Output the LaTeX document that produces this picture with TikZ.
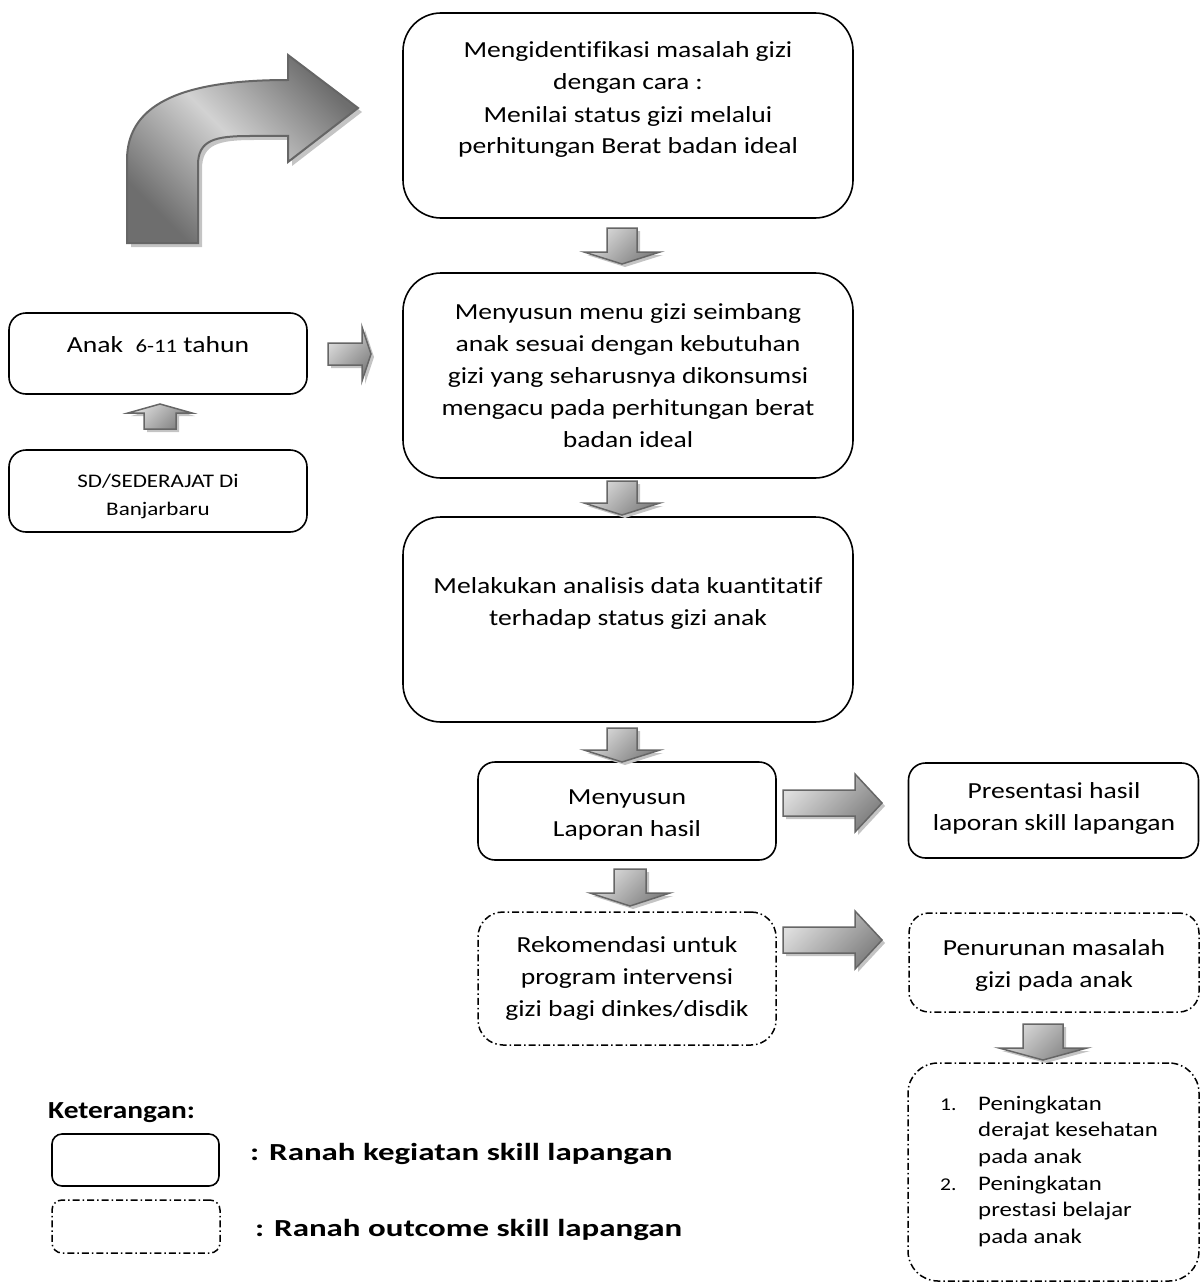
\documentclass[tikz,border=0pt]{standalone}
\usepackage{fontspec}
\setmainfont{Carlito}[FakeStretch=1.2, Ligatures={NoCommon,NoContextual}, RawFeature={-liga;-clig;-calt}]
\usetikzlibrary{calc}
\definecolor{arrline}{HTML}{666666}
\definecolor{arrlight}{HTML}{DEDEDE}
\definecolor{arrdark}{HTML}{7E7E7E}
\definecolor{curvedark}{HTML}{6E6E6E}
\definecolor{curvelight}{HTML}{D2D2D2}
\definecolor{arrshadow}{HTML}{C4C4C4}
\newcommand\fmain{\fontsize{23}{32}\selectfont}
\newcommand\fsmall{\fontsize{19.2}{28}\selectfont}
\newcommand\flist{\fontsize{20.7}{26.7}\selectfont}
\newcommand\fleg{\bfseries\fontsize{24.5}{28}\selectfont}
\newcommand\nlg{\kern0pt}
\tikzset{
  solidbox/.style={draw=black, line width=1.6pt, fill=white, inner sep=0pt, rounded corners=#1},
  solidbox/.default=17pt,
  dashbox/.style={draw=black, line width=1.5pt, fill=white, inner sep=0pt, rounded corners=#1,
     dash pattern=on 7pt off 3pt on 1.5pt off 3pt},
  dashbox/.default=22pt,
  txt/.style={align=center, inner sep=0pt, font=\fmain},
  smalltxt/.style={align=center, inner sep=0pt, font=\fsmall},
  legtxt/.style={inner sep=0pt, font=\fleg, anchor=base west},
  blkarrow/.style={draw=arrline, line width=1.5pt, top color=arrlight, bottom color=arrdark, shading angle=45},
  blkshadow/.style={fill=arrshadow},
}
% vertical block arrow: #1 cx, #2 start y, #3 head base y, #4 tip y, #5 shaft half width, #6 head half width
\newcommand\blkvert[6]{%
  \path[blkshadow,shift={(3,3)}] ({#1-#5},#2) -- ({#1+#5},#2) -- ({#1+#5},#3) -- ({#1+#6},#3) -- (#1,#4) -- ({#1-#6},#3) -- ({#1-#5},#3) -- cycle;
  \path[blkarrow] ({#1-#5},#2) -- ({#1+#5},#2) -- ({#1+#5},#3) -- ({#1+#6},#3) -- (#1,#4) -- ({#1-#6},#3) -- ({#1-#5},#3) -- cycle;
}
% horizontal block arrow: #1 start x, #2 cy, #3 head base x, #4 tip x, #5 shaft half, #6 head half
\newcommand\blkhorz[6]{%
  \path[blkshadow,shift={(3,3)}] (#1,{#2-#5}) -- (#3,{#2-#5}) -- (#3,{#2-#6}) -- (#4,#2) -- (#3,{#2+#6}) -- (#3,{#2+#5}) -- (#1,{#2+#5}) -- cycle;
  \path[blkarrow] (#1,{#2-#5}) -- (#3,{#2-#5}) -- (#3,{#2-#6}) -- (#4,#2) -- (#3,{#2+#6}) -- (#3,{#2+#5}) -- (#1,{#2+#5}) -- cycle;
}
\begin{document}
\begin{tikzpicture}[x=1pt,y=-1pt]
\useasboundingbox (0,0) rectangle (1200,1284);

% curved arrow
\path[blkshadow,shift={(4,4)}] (127,243) -- (127,160) .. controls (127,100) and (190,80) .. (288,80)
  -- (288,55) -- (358,108) -- (288,162) -- (288,136) -- (250,136)
  .. controls (215,136) and (198,140) .. (198,165) -- (198,243) -- cycle;
\path[draw=arrline, line width=2pt, top color=curvedark, bottom color=curvedark, middle color=curvelight, shading angle=-45]
  (127,243) -- (127,160) .. controls (127,100) and (190,80) .. (288,80)
  -- (288,55) -- (358,108) -- (288,162) -- (288,136) -- (250,136)
  .. controls (215,136) and (198,140) .. (198,165) -- (198,243) -- cycle;

% boxes
\node[solidbox=38pt, minimum width=450, minimum height=205] (A) at (628,115.5) {};
\node[solidbox=38pt, minimum width=450, minimum height=205] (B) at (628,375.5) {};
\node[solidbox=38pt, minimum width=450, minimum height=205] (C) at (628,619.5) {};
\node[solidbox, minimum width=298, minimum height=98] (D) at (627,811) {};
\node[solidbox, minimum width=290, minimum height=95] (E) at (1053.5,810.5) {};
\node[dashbox=25pt, minimum width=298, minimum height=133] (F) at (627,978.5) {};
\node[dashbox=20pt, minimum width=290, minimum height=99] (G) at (1054,962.5) {};
\node[dashbox=30pt, minimum width=291, minimum height=218] (H) at (1053.5,1172) {};
\node[solidbox, minimum width=298, minimum height=81] (Anak) at (158,353.5) {};
\node[solidbox, minimum width=298, minimum height=82] (SD) at (158,491) {};
\node[solidbox=10pt, minimum width=167, minimum height=52] (L1) at (135.5,1160) {};
\node[dashbox=10pt, minimum width=168, minimum height=53] (L2) at (136,1226.5) {};

% texts (anchor=base is the baseline of the last line)
\node[txt, anchor=base] (At) at (628,154) {Mengident\nlg if\nlg ikasi masalah gizi\\dengan cara :\\Menilai status gizi melalui\\perhitungan Berat badan ideal};
\node[txt, anchor=base] (Bt) at (628,447) {Menyusun menu gizi seimbang\\anak sesuai dengan kebutuhan\\gizi yang seharusnya dikonsumsi\\mengacu pada perhitungan berat\\badan ideal};
\node[txt, anchor=base] (Ct) at (628,625) {Melakukan analisis data kuant\nlg it\nlg at\nlg if\\terhadap status gizi anak};
\node[txt, anchor=base] (Dt) at (627,836) {Menyusun\\Laporan hasil};
\node[txt, anchor=base] (Et) at (1054,830) {Presentasi hasil\\laporan skill lapangan};
\node[txt, anchor=base] (Ft) at (627,1016) {Rekomendasi untuk\\program intervensi\\gizi bagi dinkes/disdik};
\node[txt, anchor=base] (Gt) at (1054,987) {Penurunan masalah\\gizi pada anak};
\node[inner sep=0pt, font=\flist, anchor=base west] (Ht) at (940,1110) {%
  \begin{tabular}[t]{@{}l@{}l@{}}
  \makebox[38pt][l]{\fontsize{18}{26.7}\selectfont 1.} & Peningkatan\\
   & derajat kesehatan\\
   & pada anak\\
  \makebox[38pt][l]{\fontsize{18}{26.7}\selectfont 2.} & Peningkatan\\
   & prestasi belajar\\
   & pada anak
  \end{tabular}};
\node[txt, anchor=base] (Anakt) at (158,352) {Anak\ \ {\fontsize{19}{32}\selectfont 6-11} tahun};
\node[smalltxt, anchor=base] (SDt) at (158,515) {SD/SEDERAJAT Di\\Banjarbaru};

% legend
\node[legtxt] (Ket) at (48,1118) {Keterangan:};
\node[legtxt, xscale=1.12, transform shape] (L1t) at (250,1160) {: Ranah kegiatan skill lapangan};
\node[legtxt, xscale=1.12, transform shape] (L2t) at (255,1236) {: Ranah outcome skill lapangan};

% block arrows
\blkvert{622}{228}{252}{264}{15}{38}
\blkvert{622}{481}{503}{515}{15}{38}
\blkvert{622}{728}{750}{762}{15}{38}
\blkvert{630}{869}{893}{906}{16}{40}
\blkvert{1043}{1024}{1048}{1060}{20}{44}
\blkvert{160}{429}{413}{404}{16}{32}
\blkhorz{328}{354}{362}{371}{11}{27}
\blkhorz{783}{803}{855}{882}{13}{29}
\blkhorz{783}{940}{855}{882}{13}{29}
\end{tikzpicture}
\end{document}
